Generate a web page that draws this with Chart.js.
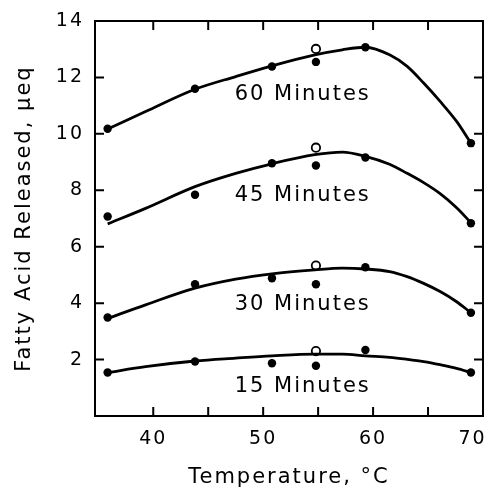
<!DOCTYPE html>
<html>
<head>
<meta charset="utf-8">
<script src="https://cdn.jsdelivr.net/npm/chart.js@4"></script>
<style>
  body { margin: 0; background: #fff; }
  canvas { display: block; }
</style>
</head>
<body>
<canvas id="chart" width="491" height="495"></canvas>
<script>
// measured temperatures (°C)
const temps = [35.85, 43.8, 50.8, 54.8, 59.3, 68.9];
const openTemp = [54.8];

// filled points, µeq
const pts60 = [10.18, 11.6, 12.39, 12.55, 13.07, 9.67];
const pts45 = [7.07, 7.84, 8.96, 8.88, 9.16, 6.83];
const pts30 = [3.49, 4.67, 4.88, 4.67, 5.27, 3.66];
const pts15 = [1.54, 1.93, 1.87, 1.78, 2.34, 1.54];

// open points at 55 °C
const open60 = [13.01];
const open45 = [9.51];
const open30 = [5.33];
const open15 = [2.30];

// fitted curves
const curveTemps = [35.85, 39.3, 43.8, 47.5, 50.8, 54.7, 57.2, 59.3, 61.5, 63.1, 64.6, 66.1, 67.6, 68.9];
const curve60 = [10.17, 10.79, 11.58, 12.03, 12.41, 12.8, 12.98, 13.07, 12.8, 12.39, 11.8, 11.15, 10.44, 9.67];
const curve45 = [6.81, 7.36, 8.13, 8.6, 8.94, 9.26, 9.35, 9.2, 8.92, 8.6, 8.27, 7.88, 7.38, 6.85];
const curve30 = [3.46, 3.94, 4.53, 4.85, 5.04, 5.18, 5.24, 5.21, 5.12, 4.94, 4.7, 4.41, 4.05, 3.66];
const curve15 = [1.54, 1.75, 1.95, 2.05, 2.13, 2.19, 2.19, 2.13, 2.08, 2.01, 1.93, 1.82, 1.69, 1.54];

const seriesNames = ['60 Minutes', '45 Minutes', '30 Minutes', '15 Minutes'];
const nameX = [53.6, 53.6, 53.6, 53.6];
const nameY = [11.38, 7.8, 3.94, 1.06];

const xTicks = [40, 45, 50, 55, 60, 65, 70];
const yTicks = [0, 2, 4, 6, 8, 10, 12, 14];

const FONT = "'DejaVu Sans', sans-serif";

function xy(xs, ys) {
    return xs.map((x, k) => ({ x: x, y: ys[k] }));
}

function curveSet(ys) {
    return {
        type: 'line',
        data: xy(curveTemps, ys),
        borderColor: '#000',
        borderWidth: 2.8,
        pointRadius: 0,
        cubicInterpolationMode: 'monotone',
        fill: false
    };
}

function dotSet(xs, ys, hollow) {
    return {
        type: 'scatter',
        data: xy(xs, ys),
        pointRadius: 4.2,
        pointBorderWidth: hollow ? 1.8 : 0,
        pointBorderColor: '#000',
        pointBackgroundColor: hollow ? '#fff' : '#000'
    };
}

// lettering in the original is wide, so space it out a bit
const spacingPlugin = {
    id: 'spacing',
    beforeDraw(chart) { chart.ctx.letterSpacing = '2px'; }
};

// inward tick marks, frame and curve names
const framePlugin = {
    id: 'frame',
    afterDraw(chart) {
        const ctx = chart.ctx;
        const a = chart.chartArea;
        const xs = chart.scales.x, ys = chart.scales.y;
        ctx.save();
        ctx.strokeStyle = '#000';
        ctx.lineWidth = 2;
        ctx.strokeRect(a.left, a.top, a.right - a.left, a.bottom - a.top);
        ctx.beginPath();
        xTicks.forEach(v => {
            const px = xs.getPixelForValue(v);
            if (px >= a.right - 1) return;
            ctx.moveTo(px, a.bottom); ctx.lineTo(px, a.bottom - 9);
            ctx.moveTo(px, a.top); ctx.lineTo(px, a.top + 9);
        });
        yTicks.forEach(v => {
            const py = ys.getPixelForValue(v);
            if (py <= a.top + 1 || py >= a.bottom - 1) return;
            ctx.moveTo(a.left, py); ctx.lineTo(a.left + 9, py);
            ctx.moveTo(a.right, py); ctx.lineTo(a.right - 9, py);
        });
        ctx.stroke();

        ctx.fillStyle = '#000';
        ctx.font = '21px ' + FONT;
        ctx.letterSpacing = '2px';
        ctx.textAlign = 'center';
        ctx.textBaseline = 'middle';
        seriesNames.forEach((n, k) => {
            ctx.fillText(n, xs.getPixelForValue(nameX[k]), ys.getPixelForValue(nameY[k]));
        });
        ctx.restore();
    }
};

new Chart(document.getElementById('chart'), {
    data: {
        datasets: [
            curveSet(curve60), curveSet(curve45), curveSet(curve30), curveSet(curve15),
            dotSet(temps, pts60, false), dotSet(temps, pts45, false),
            dotSet(temps, pts30, false), dotSet(temps, pts15, false),
            dotSet(openTemp, open60, true), dotSet(openTemp, open45, true),
            dotSet(openTemp, open30, true), dotSet(openTemp, open15, true)
        ]
    },
    options: {
        responsive: false,
        animation: false,
        layout: { padding: { left: 0, right: 8, top: 21, bottom: 0 } },
        plugins: {
            legend: { display: false },
            tooltip: { enabled: false }
        },
        scales: {
            x: {
                type: 'linear',
                min: 34.7,
                max: 70,
                afterBuildTicks: s => { s.ticks = xTicks.map(v => ({ value: v })); },
                afterFit: s => { s.height = 79; s.paddingLeft = 0; s.paddingRight = 0; },
                grid: { display: false, drawTicks: false },
                border: { display: false },
                ticks: {
                    color: '#000',
                    padding: 12,
                    maxRotation: 0,
                    font: { family: FONT, size: 19 },
                    // last label sits against the frame, nudge it inside
                    callback: v => (v === 70 ? '70\u2003' : v % 10 === 0 ? v : '')
                },
                title: {
                    display: true,
                    text: 'Temperature, °C',
                    color: '#000',
                    padding: { top: 0, bottom: 5 },
                    font: { family: FONT, size: 21 }
                }
            },
            y: {
                min: 0,
                max: 14,
                afterBuildTicks: s => { s.ticks = yTicks.map(v => ({ value: v })); },
                afterFit: s => { s.width = 95; s.paddingTop = 0; s.paddingBottom = 0; },
                grid: { display: false, drawTicks: false },
                border: { display: false },
                ticks: {
                    color: '#000',
                    padding: 11,
                    font: { family: FONT, size: 19 },
                    callback: v => (v === 0 ? '' : v)
                },
                title: {
                    display: true,
                    text: 'Fatty Acid Released, μeq',
                    color: '#000',
                    padding: { top: 12, bottom: 0 },
                    font: { family: FONT, size: 21 }
                }
            }
        }
    },
    plugins: [spacingPlugin, framePlugin]
});
</script>
</body>
</html>
